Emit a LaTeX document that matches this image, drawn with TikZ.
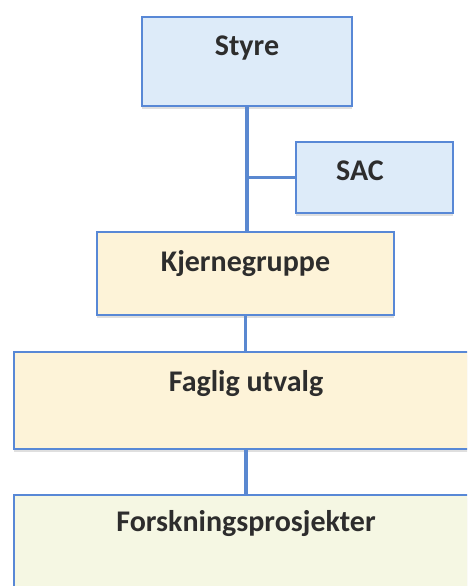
\documentclass[tikz,border=0pt]{standalone}
\usepackage{fontspec}
\setmainfont{Carlito}
\usetikzlibrary{shadows}
\definecolor{bluefill}{RGB}{221,235,249}
\definecolor{yellowfill}{RGB}{253,243,216}
\definecolor{greenfill}{RGB}{245,247,227}
\definecolor{boxline}{RGB}{88,136,214}
\definecolor{connline}{RGB}{90,136,208}
\definecolor{txt}{RGB}{45,45,45}
\begin{document}
\begin{tikzpicture}[x=1pt,y=-1pt,
  box/.style={draw=boxline, line width=1.3pt, inner sep=0pt,
    font=\fontsize{30}{32}\selectfont\bfseries, text=txt, text height=20pt,
    drop shadow={shadow xshift=0pt, shadow yshift=-2.5pt, opacity=0.25, fill=gray}},
  conn/.style={draw=connline, line width=3.5pt}]
\clip (0,0) rectangle (467,586);
\fill[white] (0,0) rectangle (467,586);
\node[box, fill=bluefill, minimum width=210pt, minimum height=89pt, text depth=32pt] (styre) at (247,61.5) {Styre};
\node[box, fill=bluefill, minimum width=157pt, minimum height=71pt, text depth=14pt] (sac) at (374.5,177.5) {\makebox[0pt]{\kern-29pt SAC}};
\node[box, fill=yellowfill, minimum width=297pt, minimum height=83pt, text depth=25pt] (kjerne) at (245.5,273.5) {Kjernegruppe};
\node[box, fill=yellowfill, minimum width=464pt, minimum height=97pt, text depth=39pt] (faglig) at (246,400.5) {Faglig utvalg};
\node[box, fill=greenfill, minimum width=464pt, minimum height=105pt, text depth=52pt] (forsk) at (246,547.5) {Forskningsprosjekter};
\draw[conn] (styre.south) -- (styre.south |- kjerne.north);
\draw[conn] (styre.south |- sac.west) -- (sac.west);
\draw[conn] (kjerne.south) -- (kjerne.south |- faglig.north);
\draw[conn] (faglig.south) -- (forsk.north);
\end{tikzpicture}
\end{document}
